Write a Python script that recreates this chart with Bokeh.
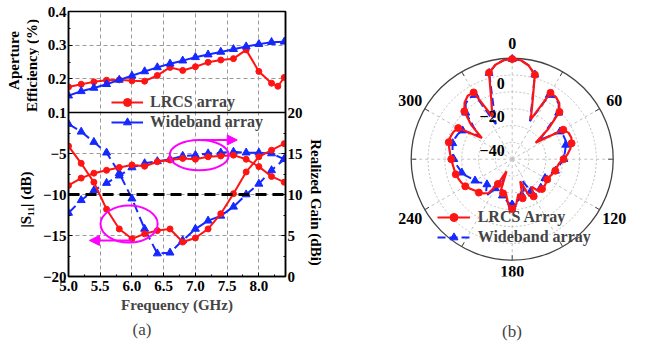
import math
from bokeh.plotting import figure
from bokeh.models import (Range1d, LinearAxis, FixedTicker, CustomJSTickFormatter,
                          NumeralTickFormatter, Span, Legend, LegendItem,
                          Arrow, NormalHead, Grid, Title)
from bokeh.layouts import row
from bokeh.embed import file_html
from bokeh.resources import INLINE
from bokeh.core.properties import value

FONT = "Liberation Serif"
RED = "#FF1414"
BLUE = "#1428FF"
MAG = "#FF00FF"

# ---------------- (a) data ----------------
freq = [5.0, 5.2, 5.4, 5.6, 5.8, 6.0, 6.2, 6.4, 6.6, 6.8, 7.0, 7.2, 7.4, 7.6, 7.8, 8.0, 8.2, 8.4]
eff_freq_lrcs = [5.0, 5.2, 5.4, 5.6, 5.8, 6.0, 6.2, 6.4, 6.6, 6.8, 7.0, 7.2, 7.4, 7.6, 7.8, 8.0, 8.2, 8.3, 8.4]
eff_lrcs = [0.176, 0.184, 0.191, 0.196, 0.197, 0.194, 0.193, 0.210, 0.234, 0.225, 0.236, 0.249,
            0.256, 0.260, 0.286, 0.222, 0.187, 0.178, 0.204]
eff_wide = [0.150, 0.163, 0.173, 0.184, 0.197, 0.209, 0.222, 0.234, 0.245, 0.254, 0.264, 0.272,
            0.280, 0.288, 0.296, 0.303, 0.309, 0.310]
s11_lrcs = [-4.1, -6.2, -8.5, -11.8, -14.2, -15.4, -14.8, -14.4, -14.2, -15.8, -15.3, -14.2,
            -12.35, -9.9, -7.25, -5.4, -4.6, -3.8]
s11_wide = [-1.4, -2.35, -3.6, -4.9, -7.4, -10.5, -14.2, -17.2, -17.1, -15.6, -14.2, -13.2,
            -12.6, -11.5, -10.0, -8.7, -7.05, -5.7]
gain_lrcs = [11.1, 12.0, 12.6, 12.95, 13.3, 13.6, 13.45, 14.0, 14.2, 14.4, 14.3, 14.6,
             14.7, 14.8, 14.3, 13.4, 12.2, 11.5]
gain_wide = [7.75, 9.3, 10.5, 11.4, 12.3, 13.3, 13.8, 14.05, 14.3, 14.7, 14.8, 15.0,
             15.1, 15.2, 15.1, 15.1, 15.0, 14.3]

x_ticks = [5.0, 5.5, 6.0, 6.5, 7.0, 7.5, 8.0]
s11_ticks = [-20, -15, -10, -5]
gain_ticks = [0, 5, 10, 15, 20]
eff_ticks = [0.1, 0.2, 0.3, 0.4]
ref_level = -10

# annotations (ellipses & arrows) in S11 coordinates
ell_x = [5.955, 7.06]
ell_y = [-13.6, -5.2]
ell_w = [0.90, 0.93]
ell_h = [4.5, 3.7]
arrows = [(6.0, -15.6, 5.33, -15.6), (7.09, -3.35, 7.66, -3.35)]

# ---------------- (b) data ----------------
theta_deg = list(range(-180, 185, 5))
pat_lrcs = [-20.5, -23, -29, -29, -30, -42, -33, -25.5, -23.5, -22, -21, -19.5, -17.8, -16.8, -16,
            -15.3, -15, -14.5, -13.8, -13, -12, -11, -11, -11.5, -13, -28, -18, -9.8, -6, -4,
            -4.2, -22, -14, 3.2, 7.0, 9.0, 9.5, 9.0, 6.5, 2.0, -15, -24, -4.5, -4.8, -6.5,
            -10.3, -22, -33, -15, -13, -12.6, -13.5, -15, -17, -19.5, -22, -23, -23.5, -24.5,
            -25.5, -26, -25.5, -25, -25, -25, -30, -24.5, -26, -36, -26, -29, -23, -20.5]
pat_wide = [-23, -24, -26, -27.6, -32, -38, -30, -24, -26, -28.8, -28, -26, -24.5, -23, -21,
            -19, -18, -16.5, -15.3, -14.5, -14, -13.4, -13.8, -14.5, -16, -26, -20, -11, -7,
            -5.5, -6, -27, -18, 3.0, 7.0, 9.0, 9.5, 9.0, 6.5, 2.0, -16, -25, -6, -5.5, -7,
            -11, -24, -30, -17.2, -16.5, -16.4, -17, -18, -18.8, -19.3, -21, -22.5, -23.4,
            -25.5, -27, -27.5, -28, -27.7, -26, -25, -23.8, -28, -36, -30, -28, -26, -24, -23]
ring_db = [-40, -30, -20, -10, 0]
ring_label_db = [0, -20, -40]
r_min, r_max = -50, 10
ang_labels = [0, 60, 120, 180, 240, 300]
ang_label_r = [69, 70, 70, 66.5, 70, 70]

# ---------------- layout constants (px) ----------------
H = 347
TOP_B, BOT_B = 11, 71            # frame from y=11 to y=276
LT_W = 39                        # left title strip
P_W, P_LB, P_RB = 266, 26, 19    # panel (a) figure
Q_W = 670 - LT_W - P_W           # panel (b) figure
FRAME_H = H - TOP_B - BOT_B      # 265
FRAME_BOT_H = 164
FRAME_TOP_H = FRAME_H - FRAME_BOT_H
TOP_EXT = 20.0 * FRAME_TOP_H / FRAME_BOT_H
EFF_LOW = 0.1 - 0.3 * FRAME_BOT_H / FRAME_TOP_H

def blank(fig):
    fig.grid.visible = False
    fig.outline_line_color = None
    fig.background_fill_color = "white"
    fig.border_fill_color = "white"

def txt(fig, x, y, text, angle=0.0, size="15px", style="bold", align="center"):
    fig.text(x=[x], y=[y], text=[text], angle=angle, text_align=align, text_baseline="middle",
             text_font=value(FONT), text_font_style=style, text_font_size=size, text_color="black")

# ================= left title strip =================
lt = figure(width=LT_W, height=H, x_range=Range1d(0, LT_W), y_range=Range1d(0, FRAME_H),
            output_backend="svg", toolbar_location=None, min_border_left=0, min_border_right=0,
            min_border_top=TOP_B, min_border_bottom=BOT_B, x_axis_location=None, y_axis_location=None)
blank(lt)
def ly(page_y):
    return 276 - page_y
txt(lt, 13.3, ly(60), "Aperture", angle=math.pi / 2)
txt(lt, 31.3, ly(65), "Efficiency (%)", angle=math.pi / 2)
txt(lt, 25.0, ly(199), "|S\u2081\u2081| (dB)", angle=math.pi / 2)

# ================= panel (a) =================
p = figure(width=P_W, height=H, x_range=Range1d(5.0, 8.42), y_range=Range1d(-20, TOP_EXT + 1e-6),
           output_backend="svg", toolbar_location=None,
           min_border_left=P_LB, min_border_right=P_RB, min_border_top=TOP_B, min_border_bottom=BOT_B)
p.extra_y_ranges = {"eff": Range1d(EFF_LOW, 0.4), "gain": Range1d(0, 20 + TOP_EXT)}
p.background_fill_color = "white"
p.border_fill_color = "white"
p.outline_line_color = "black"
p.outline_line_width = 1.5

def style_axis(ax):
    ax.major_label_text_font = FONT
    ax.major_label_text_font_style = "bold"
    ax.major_label_text_font_size = "15px"
    ax.major_label_text_color = "black"
    ax.axis_line_color = "black"
    ax.axis_line_width = 1.5
    ax.major_tick_in = 4
    ax.major_tick_out = 0
    ax.minor_tick_in = 2
    ax.minor_tick_out = 0
    ax.major_tick_line_color = "black"
    ax.minor_tick_line_color = "black"

xax = p.xaxis[0]
xax.ticker = FixedTicker(ticks=x_ticks, minor_ticks=[t + 0.25 for t in x_ticks])
xax.formatter = NumeralTickFormatter(format="0.0")
style_axis(xax)
xax.major_label_standoff = 4
xax.axis_label = "Frequency (GHz)"
xax.axis_label_text_font = FONT
xax.axis_label_text_font_style = "bold"
xax.axis_label_text_font_size = "15px"
xax.axis_label_standoff = 3

eff_pos = [round((e - 0.1) / 0.3 * TOP_EXT, 6) for e in eff_ticks]
yax = p.yaxis[0]
yax.ticker = FixedTicker(ticks=s11_ticks + eff_pos,
                         minor_ticks=[t + 2.5 for t in s11_ticks] +
                                     [(e + 0.05 - 0.1) / 0.3 * TOP_EXT for e in eff_ticks[:-1]])
yax.formatter = CustomJSTickFormatter(args=dict(top=TOP_EXT), code="""
    if (tick < -1) { return "\u2212" + Math.abs(tick).toFixed(0); }
    return (0.1 + tick * 0.3 / top).toFixed(1);
""")
style_axis(yax)
yax.major_label_standoff = 2

rax = LinearAxis(y_range_name="gain",
                 ticker=FixedTicker(ticks=gain_ticks, minor_ticks=[t + 2.5 for t in gain_ticks[:-1]]),
                 formatter=NumeralTickFormatter(format="0"))
style_axis(rax)
rax.major_label_standoff = 2
p.add_layout(rax, "right")

p.xgrid[0].ticker = FixedTicker(ticks=x_ticks[1:])
p.ygrid[0].ticker = FixedTicker(ticks=s11_ticks[1:])
for g in (p.xgrid[0], p.ygrid[0]):
    g.grid_line_color = "#9a9a9a"
    g.grid_line_dash = "4 3"
    g.grid_line_width = 1
g2 = Grid(dimension=1, ticker=FixedTicker(ticks=eff_ticks[1:3]), y_range_name="eff",
          grid_line_color="#9a9a9a", grid_line_dash="4 3", grid_line_width=1)
p.add_layout(g2)

p.add_layout(Span(location=0, dimension="width", line_color="black", line_width=1.5))
p.add_layout(Span(location=ref_level, dimension="width", line_color="black",
                  line_width=3, line_dash="11 6"))

# efficiency
le = p.line(eff_freq_lrcs, eff_lrcs, y_range_name="eff", line_color=RED, line_width=2)
se = p.scatter(eff_freq_lrcs, eff_lrcs, y_range_name="eff", marker="circle", size=6,
               fill_color=RED, line_color=RED)
lb = p.line(freq, eff_wide, y_range_name="eff", line_color=BLUE, line_width=2)
sb = p.scatter(freq, eff_wide, y_range_name="eff", marker="triangle", size=8,
               fill_color=BLUE, line_color=BLUE)

# S11 and gain
p.line(freq, s11_wide, line_color=BLUE, line_width=2, line_dash="10 5")
p.scatter(freq, s11_wide, marker="triangle", size=8, fill_color=BLUE, line_color=BLUE)
p.line(freq, gain_wide, y_range_name="gain", line_color=BLUE, line_width=2, line_dash="10 5")
p.scatter(freq, gain_wide, y_range_name="gain", marker="triangle", size=8, fill_color=BLUE, line_color=BLUE)
p.line(freq, s11_lrcs, line_color=RED, line_width=2)
p.scatter(freq, s11_lrcs, marker="circle", size=6, fill_color=RED, line_color=RED)
p.line(freq, gain_lrcs, y_range_name="gain", line_color=RED, line_width=2)
p.scatter(freq, gain_lrcs, y_range_name="gain", marker="circle", size=6, fill_color=RED, line_color=RED)

p.ellipse(x=ell_x, y=ell_y, width=ell_w, height=ell_h, fill_color=None, line_color=MAG, line_width=2)
for (xs, ys, xe, ye) in arrows:
    p.add_layout(Arrow(x_start=xs, y_start=ys, x_end=xe, y_end=ye, line_color=MAG, line_width=2,
                       end=NormalHead(size=10, fill_color=MAG, line_color=MAG)))

legA = Legend(items=[LegendItem(label="LRCS array", renderers=[le, se]),
                     LegendItem(label="Wideband array", renderers=[lb, sb])],
              location=(43, 144), glyph_width=32, glyph_height=20, label_standoff=7,
              spacing=0, padding=0, margin=0, border_line_color=None,
              background_fill_alpha=0, label_text_font=FONT, label_text_font_style="bold",
              label_text_font_size="16px", label_height=20)
p.add_layout(legA)

p.add_layout(Title(text="(a)", align="left", offset=64, text_font=FONT, text_font_style="normal",
                   text_font_size="17px", standoff=4), "below")

# ================= panel (b) =================
S = 101.0 / (r_max - r_min)   # px per unit
CX = 511.7 - (LT_W + P_W)     # polar centre within q frame
CY = 158.7 - TOP_B
q = figure(width=Q_W, height=H, x_range=Range1d(-CX / S, (Q_W - CX) / S),
           y_range=Range1d(-(FRAME_H - CY) / S, CY / S),
           output_backend="svg", toolbar_location=None, min_border_left=0, min_border_right=0,
           min_border_top=TOP_B, min_border_bottom=BOT_B,
           x_axis_location=None, y_axis_location=None)
blank(q)

R_OUT = r_max - r_min
q.circle(x=[0] * len(ring_db), y=[0] * len(ring_db), radius=[d - r_min for d in ring_db],
         fill_color=None, line_color="#c0c0c0", line_dash="2 2", line_width=1)
spk = list(range(0, 360, 30))
q.segment(x0=[0] * len(spk), y0=[0] * len(spk),
          x1=[R_OUT * math.sin(math.radians(a)) for a in spk],
          y1=[R_OUT * math.cos(math.radians(a)) for a in spk],
          line_color="#c0c0c0", line_dash="3 3", line_width=1)
q.circle(x=[0], y=[0], radius=[R_OUT], fill_color=None, line_color="#444444", line_width=1.3)
q.segment(x0=[R_OUT * math.sin(math.radians(a)) for a in spk],
          y0=[R_OUT * math.cos(math.radians(a)) for a in spk],
          x1=[(R_OUT - 3) * math.sin(math.radians(a)) for a in spk],
          y1=[(R_OUT - 3) * math.cos(math.radians(a)) for a in spk],
          line_color="#444444", line_width=1)

def pol(vals):
    xs = [(v - r_min) * math.sin(math.radians(t)) for t, v in zip(theta_deg, vals)]
    ys = [(v - r_min) * math.cos(math.radians(t)) for t, v in zip(theta_deg, vals)]
    return xs, ys

bx, by = pol(pat_wide)
rx, ry = pol(pat_lrcs)
qb = q.line(bx, by, line_color=BLUE, line_width=2, line_dash="8 4")
qbs = q.scatter(bx[::3], by[::3], marker="triangle", size=8, fill_color=BLUE, line_color=BLUE)
qr = q.line(rx, ry, line_color=RED, line_width=2.2)
qrs = q.scatter(rx[::3], ry[::3], marker="circle", size=7, fill_color=RED, line_color=RED)

q.text(x=[r * math.sin(math.radians(a)) for a, r in zip(ang_labels, ang_label_r)],
       y=[r * math.cos(math.radians(a)) for a, r in zip(ang_labels, ang_label_r)],
       text=[str(a) for a in ang_labels], text_align="center", text_baseline="middle",
       text_font=value(FONT), text_font_style="bold", text_font_size="16px", text_color="black")
q.text(x=[-4.5] * len(ring_label_db), y=[d - r_min - 4.8 for d in ring_label_db],
       text=[("\u2212" + str(abs(d))) if d < 0 else str(d) for d in ring_label_db],
       text_align="right", text_baseline="middle",
       text_font=value(FONT), text_font_style="bold", text_font_size="16px", text_color="black")

# right-hand axis title of panel (a), drawn in the strip left of the polar plot
txt(q, -CX / S + 10.0 / S, CY / S - (202 - TOP_B) / S, "Realized Gain (dBi)", angle=-math.pi / 2)

legB = Legend(items=[LegendItem(label="LRCS Array", renderers=[qr, qrs]),
                     LegendItem(label="Wideband array", renderers=[qb, qbs])],
              location=(436.7 - (LT_W + P_W), 29.3), glyph_width=33, glyph_height=20,
              label_standoff=8, spacing=0, padding=0, margin=0, border_line_color=None,
              background_fill_alpha=0, label_text_font=FONT, label_text_font_style="bold",
              label_text_font_size="16px", label_height=20)
q.add_layout(legB)
# spacer title (blank) so that the "(b)" caption sits at the same height as "(a)"
q.add_layout(Title(text="\u00a0", align="left", text_font=FONT, text_font_style="normal",
                   text_font_size="17px", standoff=21), "below")
q.add_layout(Title(text="(b)", align="left", offset=501.5 - (LT_W + P_W), text_font=FONT,
                   text_font_style="normal", text_font_size="17px", standoff=2), "below")

layout = row(lt, p, q)
open("out.html", "w").write(file_html(layout, INLINE))
